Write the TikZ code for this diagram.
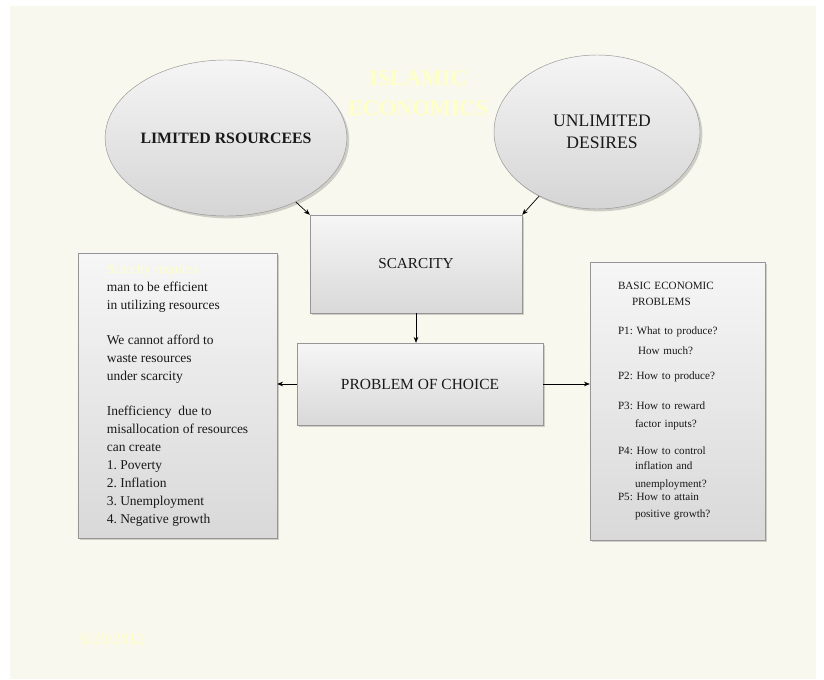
\documentclass[tikz,border=0pt]{standalone}
\usepackage{fontspec}
\setmainfont{Liberation Serif}
\usepackage{tikz}
\usetikzlibrary{arrows.meta,shapes.geometric,shadows}
\usepackage{xcolor}
\definecolor{cream}{RGB}{248,248,238}
\definecolor{paleyellow}{RGB}{255,255,200}
\definecolor{edgegray}{RGB}{150,150,150}
\definecolor{inkgray}{RGB}{25,25,25}
\frenchspacing

\begin{document}
\begin{tikzpicture}[x=0.03cm,y=-0.03cm,
    bubble/.style={ellipse,draw=edgegray,inner sep=0pt,text=inkgray,
      top color=gray!8,bottom color=gray!33,
      drop shadow={shadow xshift=2pt,shadow yshift=-2pt,opacity=0.35}},
    panel/.style={rectangle,draw=edgegray,inner sep=0pt,text=inkgray,
      top color=gray!7,bottom color=gray!30,
      drop shadow={shadow xshift=2pt,shadow yshift=-2pt,opacity=0.35}},
    arr/.style={-{Stealth[length=5pt,width=4pt]},line width=0.6pt,black}]
  \useasboundingbox (0,0) rectangle (824,679);
  \fill[cream] (10,6) rectangle (816,679);
  % faded heading and date
  \node[font=\fontsize{19}{25.6}\selectfont\bfseries,text=paleyellow,align=center]
    (title) at (418,93) {ISLAMIC\\ECONOMICS};
  \node[font=\fontsize{13.5}{16}\selectfont,text=paleyellow] (date) at (112,639) {6/20/2012};
  % the two causes
  \node[bubble,minimum width=6.36cm,minimum height=4.68cm,
    font=\fontsize{13.5}{16}\selectfont\bfseries] (lim) at (226,138) {LIMITED RSOURCEES};
  \node[bubble,minimum width=6.18cm,minimum height=4.62cm,align=center,
    font=\fontsize{15}{18.8}\selectfont] (unl) at (597,132) {\hspace*{0.3cm}UNLIMITED\\\hspace*{0.3cm}DESIRES};
  % middle column
  \node[panel,minimum width=6.36cm,minimum height=2.94cm,
    font=\fontsize{13}{16}\selectfont] (scar) at (416,264) {SCARCITY};
  \node[panel,minimum width=7.38cm,minimum height=2.46cm,
    font=\fontsize{13.2}{16}\selectfont] (choice) at (420,384) {PROBLEM OF CHOICE};
  % side panels
  \node[panel,minimum width=5.97cm,minimum height=8.55cm,align=left,
    font=\fontsize{11.5}{15.4}\selectfont] (eff) at (177.5,395.5) {%
    {\color{paleyellow}Scarcity requires}\\
    man to be efficient\\
    in utilizing resources\\[14.5pt]
    We cannot afford to\\
    waste resources\\
    under scarcity\\[14.5pt]
    Inefficiency\ \ due to\\
    misallocation of resources\\
    can create\\
    1. Poverty\\
    2. Inflation\\
    3. Unemployment\\
    4. Negative growth};
  \node[panel,minimum width=5.25cm,minimum height=8.34cm,text width=3.57cm,
    inner xsep=0.84cm,align=left,
    font=\fontsize{9.5}{13.7}\selectfont] (basic) at (677.5,401) {%
    BASIC ECONOMIC\\
    \hspace*{0.42cm}PROBLEMS\\[11pt]
    P1: What to produce?\\[3.4pt]
    \hspace*{0.6cm}How much?\\[7.7pt]
    P2: How to produce?\\[12pt]
    P3: How to reward\\[1.7pt]
    \hspace*{0.51cm}factor inputs?\\[9.4pt]
    P4: How to control\\[-1pt]
    \hspace*{0.51cm}inflation and\\[2pt]
    \hspace*{0.51cm}unemployment?\\[-3pt]
    P5: How to attain\\[1pt]
    \hspace*{0.51cm}positive growth?};
  % connectors
  \draw[arr] (lim) -- (scar.north west);
  \draw[arr] (unl) -- (scar.north east);
  \draw[arr] (scar) -- (scar |- choice.north);
  \draw[arr] (choice.west) -- (choice.west -| eff.east);
  \draw[arr] (choice.east) -- (choice.east -| basic.west);
\end{tikzpicture}
\end{document}
